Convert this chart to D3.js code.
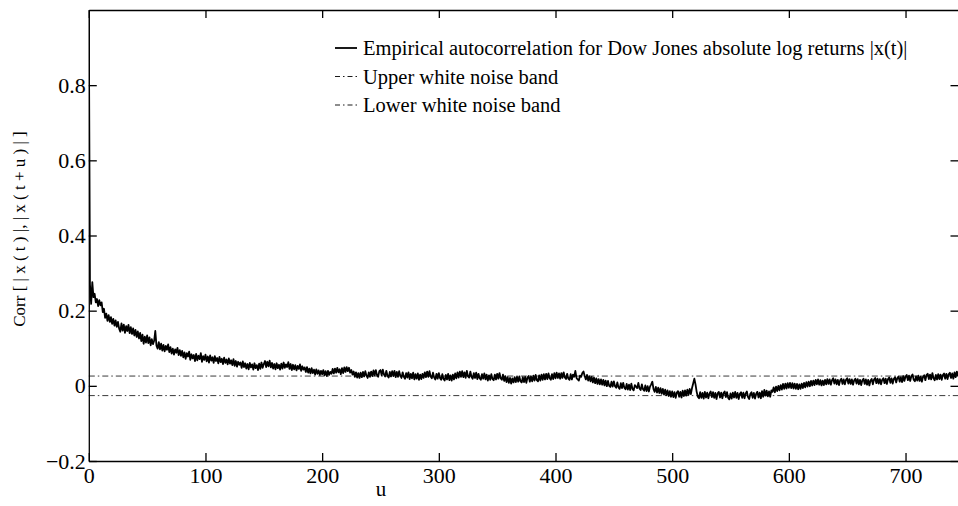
<!DOCTYPE html>
<html>
<head>
<meta charset="utf-8">
<script src="https://cdn.jsdelivr.net/npm/d3@7"></script>
<style>
  body { margin: 0; background: #fff; }
  svg { font-family: "Liberation Serif", "Times New Roman", serif; }
</style>
</head>
<body>
<div id="chart"></div>
<script>
// empirical autocorrelation of |log returns|, lag u = 0,1,2,...
var acf = [
  1.000, 0.270, 0.218, 0.276, 0.236, 0.245, 0.222, 0.231, 0.212, 0.228,
  0.214, 0.222, 0.196, 0.205, 0.181, 0.192, 0.173, 0.188, 0.170, 0.183,
  0.165, 0.178, 0.160, 0.174, 0.157, 0.170, 0.152, 0.144, 0.166, 0.147,
  0.163, 0.141, 0.159, 0.146, 0.162, 0.140, 0.156, 0.138, 0.153, 0.134,
  0.149, 0.130, 0.145, 0.126, 0.141, 0.119, 0.136, 0.112, 0.131, 0.115,
  0.134, 0.114, 0.129, 0.108, 0.124, 0.111, 0.120, 0.146, 0.107, 0.099,
  0.116, 0.097, 0.112, 0.094, 0.109, 0.092, 0.106, 0.096, 0.110, 0.090,
  0.103, 0.086, 0.099, 0.083, 0.097, 0.088, 0.101, 0.082, 0.095, 0.080,
  0.093, 0.076, 0.089, 0.072, 0.087, 0.078, 0.091, 0.069, 0.084, 0.073,
  0.082, 0.066, 0.085, 0.068, 0.080, 0.071, 0.087, 0.064, 0.079, 0.069,
  0.083, 0.065, 0.078, 0.062, 0.081, 0.067, 0.076, 0.061, 0.079, 0.066,
  0.074, 0.060, 0.077, 0.063, 0.072, 0.058, 0.075, 0.061, 0.070, 0.057,
  0.073, 0.059, 0.068, 0.055, 0.071, 0.053, 0.066, 0.051, 0.064, 0.056,
  0.062, 0.048, 0.065, 0.050, 0.060, 0.046, 0.058, 0.044, 0.061, 0.049,
  0.057, 0.043, 0.060, 0.047, 0.055, 0.042, 0.059, 0.045, 0.062, 0.048,
  0.058, 0.066, 0.050, 0.064, 0.052, 0.067, 0.049, 0.061, 0.046, 0.058,
  0.044, 0.060, 0.047, 0.056, 0.043, 0.059, 0.046, 0.062, 0.048, 0.057,
  0.050, 0.063, 0.045, 0.058, 0.042, 0.056, 0.044, 0.055, 0.041, 0.053,
  0.045, 0.057, 0.040, 0.052, 0.043, 0.049, 0.037, 0.050, 0.035, 0.046,
  0.033, 0.047, 0.034, 0.043, 0.030, 0.044, 0.032, 0.041, 0.029, 0.040,
  0.031, 0.042, 0.028, 0.039, 0.026, 0.040, 0.029, 0.037, 0.032, 0.045,
  0.033, 0.046, 0.035, 0.048, 0.036, 0.044, 0.031, 0.047, 0.034, 0.049,
  0.037, 0.050, 0.039, 0.048, 0.035, 0.042, 0.030, 0.038, 0.024, 0.036,
  0.022, 0.034, 0.021, 0.035, 0.023, 0.037, 0.025, 0.039, 0.027, 0.021,
  0.036, 0.024, 0.038, 0.026, 0.041, 0.028, 0.042, 0.029, 0.024, 0.039,
  0.042, 0.028, 0.043, 0.030, 0.025, 0.040, 0.027, 0.022, 0.037, 0.025,
  0.039, 0.026, 0.040, 0.023, 0.037, 0.024, 0.039, 0.027, 0.021, 0.036,
  0.024, 0.019, 0.034, 0.022, 0.036, 0.018, 0.032, 0.020, 0.035, 0.017,
  0.031, 0.019, 0.033, 0.016, 0.030, 0.018, 0.032, 0.021, 0.036, 0.023,
  0.038, 0.024, 0.039, 0.025, 0.020, 0.035, 0.022, 0.017, 0.032, 0.019,
  0.034, 0.021, 0.016, 0.031, 0.018, 0.014, 0.029, 0.017, 0.032, 0.015,
  0.028, 0.014, 0.030, 0.017, 0.033, 0.020, 0.036, 0.022, 0.038, 0.024,
  0.039, 0.023, 0.036, 0.021, 0.040, 0.025, 0.022, 0.038, 0.024, 0.019,
  0.034, 0.021, 0.035, 0.018, 0.032, 0.020, 0.016, 0.031, 0.019, 0.033,
  0.017, 0.030, 0.014, 0.028, 0.016, 0.031, 0.018, 0.015, 0.030, 0.017,
  0.032, 0.019, 0.034, 0.020, 0.016, 0.030, 0.013, 0.026, 0.010, 0.023,
  0.008, 0.021, 0.006, 0.020, 0.009, 0.023, 0.010, 0.024, 0.011, 0.025,
  0.012, 0.009, 0.023, 0.010, 0.024, 0.008, 0.022, 0.026, 0.011, 0.025,
  0.012, 0.027, 0.014, 0.029, 0.015, 0.012, 0.028, 0.014, 0.030, 0.016,
  0.031, 0.017, 0.032, 0.018, 0.033, 0.020, 0.016, 0.031, 0.018, 0.034,
  0.020, 0.035, 0.021, 0.033, 0.019, 0.034, 0.021, 0.036, 0.022, 0.018,
  0.032, 0.019, 0.016, 0.031, 0.017, 0.030, 0.024, 0.040, 0.021, 0.017,
  0.014, 0.027, 0.024, 0.034, 0.038, 0.026, 0.017, 0.029, 0.014, 0.025,
  0.012, 0.024, 0.009, 0.022, 0.007, 0.020, 0.005, 0.018, 0.004, 0.017,
  0.003, 0.016, 0.001, 0.014, -0.001, 0.013, 0.000, -0.003, 0.011, -0.002,
  0.012, -0.001, -0.005, 0.009, -0.004, -0.008, 0.007, -0.006, 0.008, -0.005,
  -0.009, 0.005, -0.010, 0.003, -0.011, 0.006, -0.008, -0.012, 0.002, -0.002,
  -0.006, 0.008, -0.007, -0.011, 0.004, -0.009, -0.013, 0.001, -0.014, -0.001,
  -0.015, -0.002, 0.004, 0.011, -0.009, -0.016, -0.003, -0.018, -0.005, -0.019,
  -0.006, -0.021, -0.008, -0.023, -0.010, -0.025, -0.012, -0.027, -0.014, -0.029,
  -0.015, -0.030, -0.017, -0.032, -0.018, -0.014, -0.029, -0.016, -0.031, -0.013,
  -0.027, -0.012, -0.026, -0.010, -0.024, -0.008, -0.022, -0.006, 0.006, 0.019,
  0.004, -0.016, -0.029, -0.033, -0.017, -0.032, -0.019, -0.034, -0.016, -0.031,
  -0.018, -0.033, -0.020, -0.015, -0.030, -0.017, -0.032, -0.019, -0.035, -0.020,
  -0.016, -0.031, -0.018, -0.033, -0.019, -0.015, -0.030, -0.017, -0.032, -0.036,
  -0.020, -0.034, -0.018, -0.031, -0.016, -0.032, -0.019, -0.035, -0.021, -0.017,
  -0.032, -0.018, -0.033, -0.020, -0.015, -0.030, -0.035, -0.021, -0.017, -0.032,
  -0.019, -0.034, -0.021, -0.016, -0.031, -0.018, -0.033, -0.014, -0.029, -0.011,
  -0.026, -0.013, -0.028, -0.015, -0.029, -0.012, -0.016, -0.004, -0.017, -0.002,
  -0.014, 0.000, -0.012, 0.002, -0.010, 0.005, -0.008, 0.006, -0.007, 0.007,
  -0.005, 0.008, -0.006, 0.007, -0.007, 0.006, -0.008, 0.005, -0.009, 0.004,
  -0.008, 0.006, -0.006, 0.008, -0.004, 0.010, -0.002, 0.011, -0.001, 0.013,
  0.001, 0.014, 0.002, 0.016, 0.004, 0.017, 0.003, 0.015, 0.001, 0.014,
  0.002, 0.016, 0.004, 0.018, 0.005, 0.017, 0.003, 0.015, 0.020, 0.006,
  0.017, 0.004, 0.016, 0.002, 0.015, 0.019, 0.005, 0.017, 0.004, 0.016,
  0.020, 0.006, 0.018, 0.005, 0.017, 0.003, 0.015, 0.019, 0.006, 0.018,
  0.004, 0.016, 0.002, 0.015, 0.019, 0.005, 0.017, 0.003, 0.016, 0.001,
  0.014, 0.018, 0.004, 0.017, 0.021, 0.007, 0.019, 0.006, 0.018, 0.004,
  0.016, 0.020, 0.007, 0.019, 0.005, 0.018, 0.022, 0.008, 0.020, 0.006,
  0.019, 0.023, 0.009, 0.021, 0.025, 0.011, 0.023, 0.010, 0.026, 0.013,
  0.025, 0.029, 0.015, 0.027, 0.013, 0.026, 0.030, 0.016, 0.012, 0.025,
  0.014, 0.027, 0.013, 0.025, 0.011, 0.024, 0.028, 0.015, 0.029, 0.032,
  0.018, 0.030, 0.017, 0.034, 0.020, 0.015, 0.029, 0.017, 0.031, 0.018,
  0.030, 0.016, 0.029, 0.033, 0.019, 0.032, 0.018, 0.031, 0.035, 0.021,
  0.033, 0.019, 0.036, 0.023, 0.038, 0.026
];
var upperBand = 0.026;
var lowerBand = -0.026;
var xTicks = [0, 100, 200, 300, 400, 500, 600, 700];
var yTicks = [-0.2, 0, 0.2, 0.4, 0.6, 0.8];
var legendLabels = [
  "Empirical autocorrelation for Dow Jones absolute log returns |x(t)|",
  "Upper white noise band",
  "Lower white noise band"
];

var W = 958, H = 506;
var pLeft = 88.8, pRight = 958.5, pTop = 10, pBottom = 461;

var svg = d3.select("#chart").append("svg")
    .attr("width", W)
    .attr("height", H);

var x = d3.scaleLinear().domain([0, 745.4]).range([pLeft, pRight]);
var y = d3.scaleLinear().domain([-0.2, 1.0]).range([pBottom, pTop]);

var fmt = function (d) { return d < 0 ? "\u2212" + Math.abs(d) : String(d); };

// clip so the curve stays inside the box
svg.append("clipPath").attr("id", "clip")
  .append("rect")
    .attr("x", pLeft).attr("y", pTop)
    .attr("width", pRight - pLeft).attr("height", pBottom - pTop);

// white noise bands
[upperBand, lowerBand].forEach(function (b) {
  svg.append("line")
      .attr("x1", x(0)).attr("x2", x(745.4))
      .attr("y1", y(b)).attr("y2", y(b))
      .attr("stroke", "#222")
      .attr("stroke-width", 0.9)
      .attr("stroke-dasharray", "6,3,1.5,3");
});

// the autocorrelation curve
var line = d3.line()
    .x(function (d, i) { return x(i); })
    .y(function (d) { return y(d); });

svg.append("path")
    .datum(acf)
    .attr("clip-path", "url(#clip)")
    .attr("fill", "none")
    .attr("stroke", "#000")
    .attr("stroke-width", 1.8)
    .attr("stroke-linejoin", "round")
    .attr("d", line);

// axes, ticks pointing inward on all four sides
function styleAxis(g) {
  g.selectAll("path, line").attr("stroke", "#000").attr("stroke-width", 1.3);
  g.selectAll("text").attr("fill", "#000").style("font-size", "22px")
    .style("font-family", "Liberation Serif, Times New Roman, serif");
}

svg.append("g")
    .attr("transform", "translate(0," + pBottom + ")")
    .call(d3.axisBottom(x).tickValues(xTicks).tickSize(-8).tickSizeOuter(0).tickPadding(6).tickFormat(d3.format("d")))
    .call(styleAxis);

svg.append("g")
    .attr("transform", "translate(0," + pTop + ")")
    .call(d3.axisTop(x).tickValues(xTicks).tickSize(-8).tickSizeOuter(0).tickFormat(""))
    .call(styleAxis);

svg.append("g")
    .attr("transform", "translate(" + pLeft + ",0)")
    .call(d3.axisLeft(y).tickValues(yTicks).tickSize(-8).tickSizeOuter(0).tickPadding(3).tickFormat(fmt))
    .call(styleAxis);

svg.append("g")
    .attr("transform", "translate(" + pRight + ",0)")
    .call(d3.axisRight(y).tickValues(yTicks).tickSize(-8).tickSizeOuter(0).tickFormat(""))
    .call(styleAxis);

// axis titles
svg.append("text")
    .attr("x", 381)
    .attr("y", 496)
    .attr("text-anchor", "middle")
    .style("font-size", "21px")
    .text("u");

svg.append("text")
    .attr("transform", "translate(25,229) rotate(-90)")
    .attr("text-anchor", "middle")
    .style("font-size", "17px")
    .text("Corr [ | x ( t ) |, | x ( t + u ) | ]");

// legend
var legend = svg.append("g").attr("transform", "translate(335,48)");
legendLabels.forEach(function (t, i) {
  var row = legend.append("g").attr("transform", "translate(0," + (i * 28.5) + ")");
  row.append("line")
      .attr("x1", 0).attr("x2", 22)
      .attr("y1", 0).attr("y2", 0)
      .attr("stroke", "#000")
      .attr("stroke-width", i == 0 ? 1.8 : 0.9)
      .attr("stroke-dasharray", i == 0 ? null : "5,3,1.5,3");
  row.append("text")
      .attr("x", 28)
      .attr("dy", "0.35em")
      .style("font-size", "20.5px")
      .text(t);
});
</script>
</body>
</html>
